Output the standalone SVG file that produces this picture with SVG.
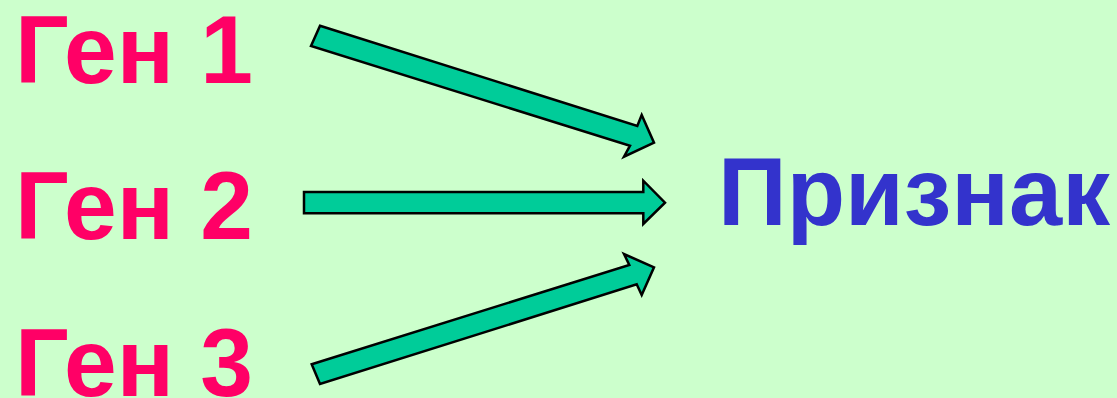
<svg xmlns="http://www.w3.org/2000/svg" width="1117" height="398" viewBox="0 0 1117 398">
<style>
.gen{font-family:"Liberation Sans",Arial,sans-serif;font-weight:bold;font-size:96px;fill:#FF0066}
.trait{font-family:"Liberation Sans",Arial,sans-serif;font-weight:bold;font-size:97px;fill:#3333CC}
.arrow{fill:#00CC99;stroke:#000;stroke-width:2.5;stroke-linejoin:miter}
</style>
<rect width="1117" height="398" fill="#CCFFCC"/>
<g id="gen1"><text class="gen" x="15" y="83" textLength="238" lengthAdjust="spacingAndGlyphs">Ген 1</text></g>
<g id="gen2"><text class="gen" x="15" y="239" textLength="238" lengthAdjust="spacingAndGlyphs">Ген 2</text></g>
<g id="gen3"><text class="gen" x="15" y="396" textLength="238" lengthAdjust="spacingAndGlyphs">Ген 3</text></g>
<g id="trait"><text class="trait" x="718" y="225" textLength="392" lengthAdjust="spacingAndGlyphs">Признак</text></g>
<g id="connectors">
<polygon class="arrow" points="320,25.7 637.3,126 641.7,115 654,142.7 624,156.7 630,145.7 311,46"/>
<polygon class="arrow" points="304,192 643.3,192 643.3,180.7 665,202.7 643.3,224 643.3,213.3 304,213.3"/>
<polygon class="arrow" points="311.7,364.3 629.3,265 624,254 654,267.3 641.7,295 636.7,284.3 320,384"/>
</g>
</svg>
